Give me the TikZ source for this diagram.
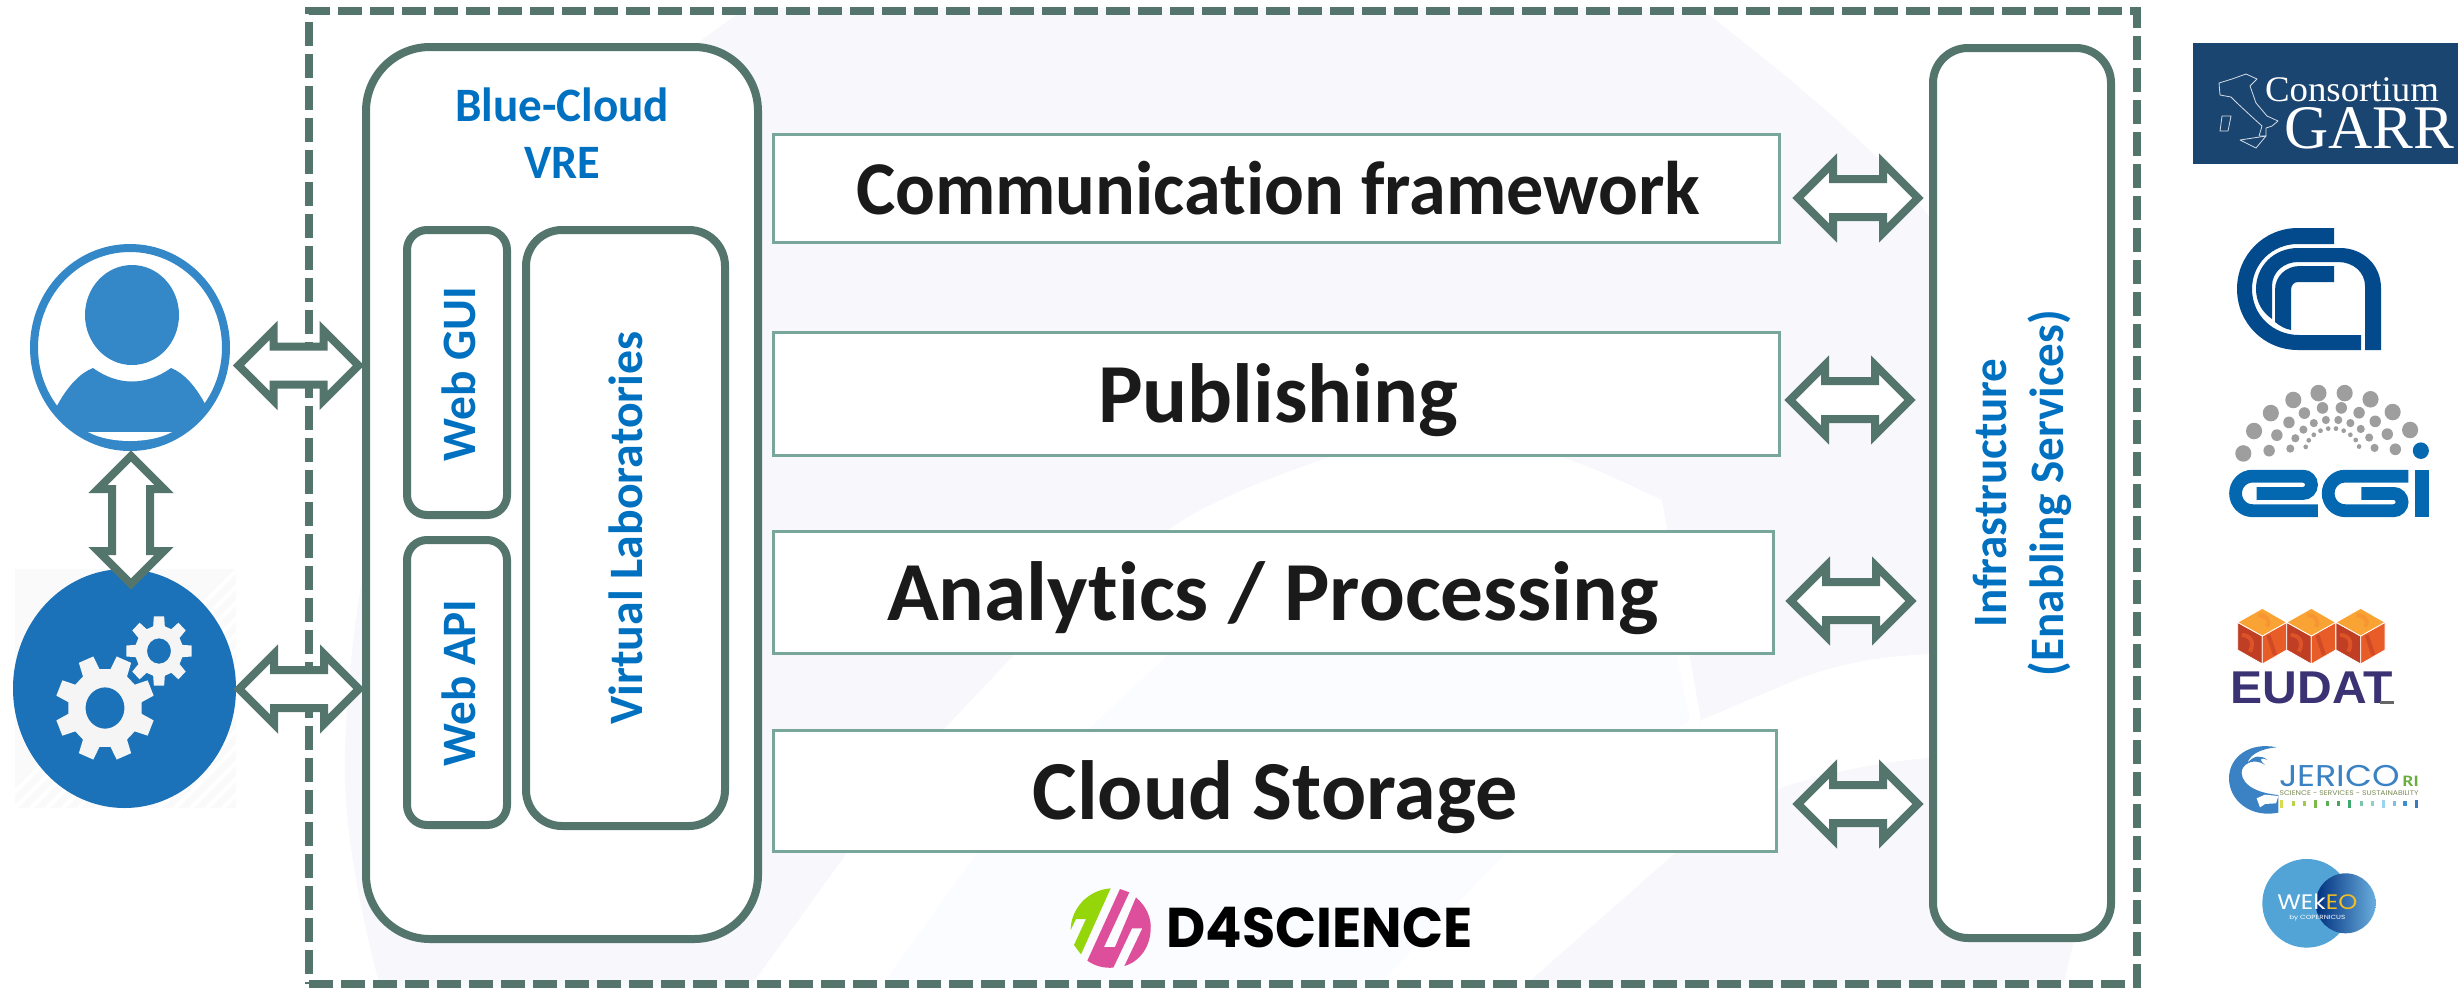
\documentclass[tikz,border=0pt]{standalone}
\usepackage{graphicx}
\usepackage{fontspec}
\usetikzlibrary{shapes.arrows,shapes.geometric}
\setmainfont[Ligatures=NoCommon]{Carlito}
\newfontfamily\carf[Ligatures=NoCommon]{Carlito}
\newfontfamily\timesf{Liberation Serif}
\newfontfamily\helvf{Liberation Sans}
\newfontfamily\popf{Poppins}
\newsavebox\fitbox
\newcommand\fitw[2]{\sbox\fitbox{#2}\pgfmathsetmacro\fitr{#1/\the\wd\fitbox}\scalebox{\fitr}[1]{\usebox\fitbox}}
\definecolor{framegreen}{HTML}{53756B}
\definecolor{boxgreen}{HTML}{78A69B}
\definecolor{vreblue}{HTML}{0070C0}
\definecolor{paleA}{HTML}{F7F7FC}
\definecolor{paleB}{HTML}{FBFCFF}
\definecolor{userblue}{HTML}{3488C8}
\definecolor{gearblue}{HTML}{1C72B8}
\definecolor{titleblack}{HTML}{1A1A1A}
\definecolor{garrblue}{HTML}{1B4571}
\definecolor{garrline}{HTML}{D5DDE6}
\definecolor{cnrblue}{HTML}{034A8C}
\definecolor{egigray}{HTML}{9E9E9E}
\definecolor{egiblue}{HTML}{0468B1}
\definecolor{cubetop}{HTML}{F9A334}
\definecolor{cubeleft}{HTML}{BF3E24}
\definecolor{cuberight}{HTML}{E85C28}
\definecolor{eudattext}{HTML}{3B3274}
\definecolor{jericoblue}{HTML}{3B82C4}
\definecolor{jericogreen}{HTML}{6AAE3E}
\definecolor{jericoolive}{HTML}{7B8A55}
\definecolor{wekeoblue}{HTML}{52A3D6}
\definecolor{wekeodark}{HTML}{00307F}
\definecolor{wekeolight}{HTML}{6AAEDD}
\definecolor{wekeoyellow}{HTML}{F2BE22}
\definecolor{d4green}{HTML}{94D60A}
\definecolor{d4pink}{HTML}{DE4F9B}
\tikzset{
  outerbox/.style={draw=framegreen,line width=4pt,fill=white,rectangle,outer sep=0pt,inner sep=0pt},
  layerbox/.style={draw=boxgreen,line width=1.5pt,fill=white,rectangle,outer sep=0pt,inner sep=0pt},
  framebox/.style={draw=framegreen,line width=4pt,rectangle,outer sep=0pt,inner sep=0pt,dash pattern=on 12pt off 4pt,minimum width=914pt,minimum height=486.5pt},
  blockarrow/.style={shape=double arrow,draw=framegreen,fill=white,line width=4pt,miter limit=10,
    double arrow head extend=8pt,double arrow head indent=0pt,shape border uses incircle=false,
    inner xsep=0pt,inner ysep=7.5pt,outer sep=0pt,minimum height=60pt,text height=0pt,text depth=0pt,text width=0pt},
  layertext/.style={anchor=base,inner sep=0pt,text=titleblack,font=\carf\bfseries},
  bluetext/.style={anchor=base,inner sep=0pt,text=vreblue,font=\carf\bfseries\fontsize{24}{24}\selectfont},
  logotext/.style={anchor=base,inner sep=0pt},
}
\newcommand\gearshape[4]{% outer, root, hole, offset
  (#4-14:#2) \foreach \k in {0,...,7}{
    -- ({#4+\k*45-14}:#2) -- ({#4+\k*45-9}:#1) -- ({#4+\k*45+9}:#1) -- ({#4+\k*45+14}:#2)
  } -- cycle (0,0) circle (#3)}
\begin{document}
\begin{tikzpicture}[x=0.5pt,y=-0.5pt]
\useasboundingbox (0,0) rectangle (2458,987);
% ---- watermark in the background
\fill[paleA] (747,8) .. controls (560,130) and (400,360) .. (362,580) .. controls (348,660) and (342,760) .. (346,800)
  .. controls (350,860) and (365,930) .. (380,987) -- (2063,987) -- (2073,944) -- (2100,500) -- (1928,215)
  .. controls (1880,150) and (1780,70) .. (1700,8) -- cycle;
\fill[white] (1330,457) .. controls (1290,470) and (1210,500) .. (1171,528) .. controls (1110,570) and (1060,610) .. (1012,657)
  -- (946,727) -- (847,853) -- (750,987) -- (1523,987) -- (1675,853) -- (1701,720) -- (1662,500) .. controls (1640,490) and (1600,470) .. (1562,457) -- cycle;
\fill[paleB] (1168,655) -- (1290,530) -- (1650,530) -- (1690,720) -- (1506,853) -- (1376,987) -- (881,987) -- (977,853) -- (1090,728) -- cycle;
\fill[white] (1701,720) -- (1801,678) .. controls (1850,660) and (1890,656) .. (1929,654) -- (1929,758) .. controls (1880,762) and (1830,772) .. (1783,787) -- (1675,853) -- cycle;
% ---- dashed frame
\node[framebox] (frame) at (1223,497.5) {};
% ---- main boxes
\node[outerbox,minimum width=196pt,minimum height=446pt,rounded corners=32pt] (vre) at (562,493) {};
\node[outerbox,minimum width=50pt,minimum height=142.5pt,rounded corners=10pt] (webgui) at (457,372.5) {};
\node[outerbox,minimum width=50pt,minimum height=142.5pt,rounded corners=10pt] (webapi) at (457,682.5) {};
\node[outerbox,minimum width=99.5pt,minimum height=298pt,rounded corners=18pt] (vlab) at (625.5,528) {};
\node[outerbox,minimum width=89pt,minimum height=445pt,rounded corners=17.5pt] (infra) at (2022,493) {};
\node[layerbox,minimum width=503pt,minimum height=54pt] (comm) at (1276.5,188.5) {};
\node[layerbox,minimum width=503pt,minimum height=61.5pt] (publ) at (1276.5,394) {};
\node[layerbox,minimum width=500pt,minimum height=61pt] (anal) at (1273.5,592.5) {};
\node[layerbox,minimum width=501.5pt,minimum height=60.5pt] (stor) at (1275,791) {};
% ---- labels
\node[layertext] (commt) at (1278,214) {\fitw{422}{\fontsize{38}{38}\selectfont Communication framework}};
\node[layertext] (publt) at (1278,422) {\fitw{180}{\fontsize{42}{42}\selectfont Publishing}};
\node[layertext] (analt) at (1273,620) {\fitw{386}{\fontsize{42}{42}\selectfont Analytics / Processing}};
\node[layertext] (stort) at (1275,819) {\fitw{242.5}{\fontsize{42}{42}\selectfont Cloud Storage}};
\node[bluetext] (vret1) at (562,121) {\fitw{107}{Blue-Cloud}};
\node[bluetext] (vret2) at (562,178) {\fitw{38}{VRE}};
\node[bluetext,rotate=90] (guit) at (475,374) {\fitw{87.5}{Web GUI}};
\node[bluetext,rotate=90] (apit) at (475,683) {\fitw{83.5}{Web API}};
\node[bluetext,rotate=90] (vlabt) at (642,528) {\fitw{196.5}{Virtual Laboratories}};
\node[bluetext,rotate=90] (inft1) at (2006,493) {\fitw{134.5}{Infrastructure}};
\node[bluetext,rotate=90] (inft2) at (2063,493) {\fitw{183}{(Enabling Services)}};
% ---- user and system icons
\begin{scope}
  \clip (15,569) rectangle (236,808);
  \fill[white!98!black] (15,569) rectangle (236,808);
  \foreach \d in {0,16,...,480}{\draw[white,line width=2pt] (15+\d-16,808) -- (15+\d+223,569);}
\end{scope}
\node[shape=ellipse,draw=userblue,fill=white,line width=4pt,inner sep=0pt,outer sep=0pt,minimum width=96pt,minimum height=99.5pt] (user) at (130,347.5) {};
\begin{scope}
  \clip (130,347.5) ellipse (96 and 99.5);
  \fill[userblue] (58,404) .. controls (68,386) and (80,373) .. (93,368) .. controls (118,386) and (146,386) .. (171,368)
    .. controls (184,373) and (195,386) .. (204,402) -- (235,460) -- (25,460) -- cycle;
  \fill[white] (88,432) -- (172,432) .. controls (150,444) and (110,444) .. cycle;
\end{scope}
\fill[userblue] (132,315) ellipse (47 and 50);
\node[shape=ellipse,fill=gearblue,inner sep=0pt,outer sep=0pt,minimum width=111.5pt,minimum height=119.5pt] (system) at (124.5,688.5) {};
\begin{scope}[shift={(105,708)},yscale=1.06]
  \fill[white!96!black,even odd rule] \gearshape{50}{37}{19.5}{22.5};
\end{scope}
\begin{scope}[shift={(159,651)},yscale=1.06]
  \fill[white!96!black,even odd rule] \gearshape{33}{24}{12}{0};
\end{scope}
% ---- block arrows
\node[blockarrow] (a1) at (1858,198) {};
\node[blockarrow] (a2) at (1850,400) {};
\node[blockarrow] (a3) at (1851,601) {};
\node[blockarrow] (a4) at (1858,804) {};
\node[blockarrow] (a5) at (298.5,365.5) {};
\node[blockarrow] (a6) at (299,689) {};
\node[blockarrow,rotate=90,minimum height=64pt,double arrow head extend=7pt] (a7) at (131,520) {};
% ---- D4Science logo
\begin{scope}[shift={(1000,860)},xscale=0.3333,yscale=0.3333]
  \fill[d4green] (212,210) .. controls (212,150) and (260,90) .. (332,85) -- (243,283) -- (222,255) -- (258,177) -- (228,177) -- cycle;
  \fill[d4pink] (360,87) -- (388,97) -- (312,261) -- (345,261) -- (408,112) .. controls (440,140) and (455,175) .. (452,210)
    .. controls (450,260) and (420,305) .. (373,318) -- (427,205) -- (396,205) -- (340,323) .. controls (310,325) and (285,318) .. (262,302) -- cycle;
  \node[logotext] (d4t) at (959,262) {\fitw{153}{\popf\bfseries\fontsize{28}{28}\selectfont D4SCIENCE}};
\end{scope}
% ---- GARR logo
\fill[garrblue] (2193,43) rectangle (2458,164);
\draw[garrline,line width=0.4pt,line join=round] (2219,83) -- (2232,79) -- (2246,74) -- (2257,79) -- (2250,86) -- (2256,103) -- (2267,116) -- (2278,121) -- (2272,126) -- (2266,128) -- (2266,136) -- (2259,136) -- (2262,126) -- (2251,116) -- (2237,103) -- (2231,97) -- (2220,95) -- cycle;
\draw[garrline,line width=0.4pt,line join=round] (2222,116) -- (2231,116) -- (2228,131) -- (2220,131) -- cycle;
\draw[garrline,line width=0.4pt,line join=round] (2240,140) -- (2266,136) -- (2256,148) -- cycle;
\node[logotext,text=white,font=\timesf] (garr1) at (2352,101) {\fitw{87}{\fontsize{18}{18}\selectfont Consortium}};
\node[logotext,text=white,font=\timesf] (garr2) at (2369,148) {\fitw{85}{\fontsize{31}{31}\selectfont GARR}};
% ---- CNR logo
\fill[cnrblue] (2334,228) -- (2298,228) .. controls (2264,228) and (2237,255) .. (2237,289) .. controls (2237,323) and (2264,350) .. (2298,350) -- (2361,350) -- (2361,335) -- (2299,335)
  .. controls (2273,335) and (2252,315) .. (2252,289) .. controls (2252,264) and (2272,244) .. (2298,244) -- (2334,244) -- cycle;
\fill[cnrblue] (2365,350) -- (2381,350) -- (2381,288) .. controls (2381,265) and (2363,248) .. (2340,248) -- (2298,248) .. controls (2274,248) and (2256,266) .. (2256,289) .. controls (2256,302) and (2262,312) .. (2272,319)
  -- (2272,286) .. controls (2272,272) and (2284,262) .. (2298,262) -- (2338,262) .. controls (2353,262) and (2365,272) .. (2365,286) -- cycle;
\fill[cnrblue] (2334,266) -- (2300,266) .. controls (2286,266) and (2275,276) .. (2275,290) -- (2275,322) .. controls (2280,326) and (2285,329) .. (2291,330) -- (2291,290) .. controls (2291,285) and (2294,282) .. (2298,282) -- (2334,282) -- cycle;
% ---- EGI logo
\begin{scope}[shift={(2150,0)},xscale=0.3356,yscale=0.3448]
  \foreach \p in {(278,1315),(310,1250),(360,1198),(427,1160),(502,1140),(580,1140),(657,1158),(723,1195),(775,1247)}{\fill[egigray] \p circle (24);}
  \foreach \p in {(355,1307),(378,1262),(414,1225),(460,1198),(514,1183),(570,1183),(623,1197),(671,1222),(707,1259),(731,1303)}{\fill[egigray] \p circle (17);}
  \foreach \p in {(418,1301),(433,1271),(457,1246),(488,1227),(524,1218),(561,1218),(597,1227),(628,1244),(653,1269),(669,1299)}{\fill[egigray] \p circle (12);}
  \foreach \p in {(464,1296),(473,1277),(488,1261),(508,1249),(531,1243),(554,1243),(577,1249),(597,1261),(613,1276),(623,1295)}{\fill[egigray] \p circle (7);}
  \fill[egiblue] (807,1307) circle (24);
  \draw[egiblue,line width=6.4pt] (500,1481) -- (305,1481) arc (90:270:50) -- (456,1381) arc (-90:90:25) -- (318,1431);
  \draw[egiblue,line width=6.4pt] (770,1381) -- (581,1381) arc (-90:-270:50) -- (726,1481) arc (90:-90:25) -- (630,1431);
  \fill[egiblue] (790,1362) rectangle (830,1500);
\end{scope}
% ---- EUDAT logo
\begin{scope}[shift={(2150,560)},xscale=0.3333,yscale=0.3333]
  \foreach \dx in {0,147,295}{
    \begin{scope}[shift={(\dx,0)}]
      \draw[white,line width=0.4pt,fill=cubeleft] (263,187) -- (337,228) -- (337,312) -- (263,270) -- cycle;
      \draw[white,line width=0.4pt,fill=cuberight] (337,228) -- (410,187) -- (410,270) -- (337,312) -- cycle;
      \draw[white,line width=0.4pt,fill=cubetop] (337,145) -- (410,187) -- (337,228) -- (263,187) -- cycle;
      \draw[cuberight!70!cubeleft,line width=2pt] (275,225) .. controls (300,225) and (315,245) .. (300,275);
      \draw[cubeleft!60!cuberight,line width=2pt] (355,225) -- (375,285);
      \draw[cubetop!80!cuberight,line width=2pt] (325,165) .. controls (345,165) and (365,180) .. (350,200);
    \end{scope}}
  \node[logotext,text=eudattext] (eudat) at (485,430) {\fitw{81}{\helvf\bfseries\fontsize{23}{23}\selectfont EUDAT}};
  \fill[black!60] (690,422) rectangle (732,431);
\end{scope}
% ---- JERICO logo
\begin{scope}[shift={(2150,560)},xscale=0.3333,yscale=0.3333]
  \fill[jericoblue] (380,562) .. controls (300,545) and (237,590) .. (237,655) .. controls (237,720) and (300,775) .. (385,758)
    -- (385,705) .. controls (330,700) and (278,680) .. (275,640) .. controls (272,615) and (310,590) .. (345,615) .. controls (325,598) and (330,590) .. (352,600)
    .. controls (335,585) and (310,585) .. (292,610) .. controls (300,580) and (340,565) .. (380,562) -- cycle;
  \fill[white] (320,715) -- (345,704) -- (385,708) -- (378,730) -- (345,732) -- (330,742) -- cycle;
  \node[logotext,text=jericoblue] (jer1) at (569,680) {\fitw{60.5}{\popf\fontsize{15}{15}\selectfont JERICO}};
  \node[logotext,text=jericogreen] (jer2) at (782,680) {\fitw{8}{\carf\bfseries\fontsize{8}{8}\selectfont RI}};
  \node[logotext,text=jericoolive] (jer3) at (597,706) {\fitw{69.5}{\popf\fontsize{3.4}{4}\selectfont SCIENCE - SERVICES - SUSTAINABILITY}};
  \foreach \xb/\hb/\cb in {395/12/D6DC4A,430/8/B7D24F,463/8/A4C94A,496/12/7CBA4A,532/8/5CAE55,565/8/4BA55C,599/12/3FA86F,634/8/7CC4AF,667/8/8AD0C8,701/12/9AD4EE,733/8/7CC0EA,765/8/3D8FD0,800/12/3B78BE}{
    \definecolor{barcol}{HTML}{\cb}
    \fill[barcol] (\xb-5,731.5-\hb) rectangle (\xb+5,731.5+\hb);
  }
\end{scope}
% ---- WEkEO logo
\begin{scope}[shift={(2150,560)},xscale=0.3333,yscale=0.3333]
  \fill[wekeoblue] (470,1030) circle (133);
  \shade[left color=wekeodark,right color=wekeolight] (587,1030) circle (90);
  \node[logotext,text=white] (wek1) at (502,1050) {\fitw{40}{\popf\fontsize{10.5}{11}\selectfont WEk\textcolor{wekeoyellow}{EO}}};
  \node[logotext,text=white] (wek2) at (502,1080) {\fitw{28}{\popf\fontsize{3}{3}\selectfont by COPERNICUS}};
\end{scope}
\end{tikzpicture}
\end{document}
